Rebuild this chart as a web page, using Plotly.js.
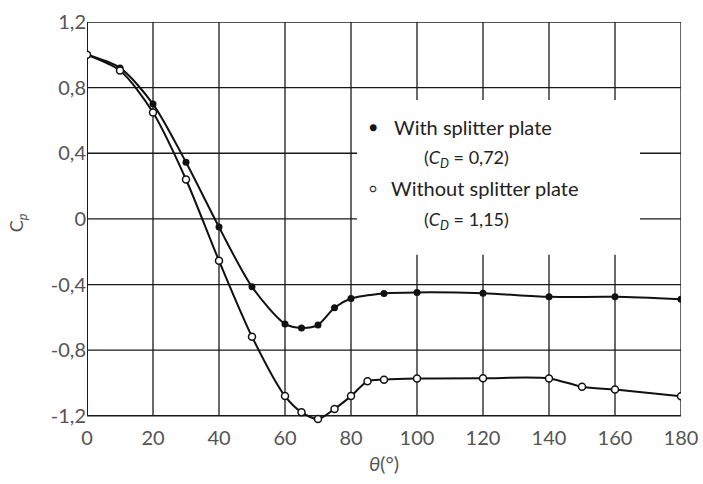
<!DOCTYPE html>
<html>
<head>
<meta charset="utf-8">
<script src="https://cdn.plot.ly/plotly-3.0.1.min.js"></script>
<style>html,body{margin:0;padding:0;background:#fff;}#chart{width:703px;height:484px;}</style>
</head>
<body>
<div id="chart"></div>
<script>
// Data
var thetaWith = [0, 10, 20, 30, 40, 50, 60, 65, 70, 75, 80, 90, 100, 120, 140, 160, 180];
var cpWith = [1.0, 0.92, 0.70, 0.345, -0.05, -0.414, -0.64, -0.665, -0.646, -0.541, -0.485, -0.454, -0.448, -0.453, -0.475, -0.475, -0.49];

var thetaWithout = [0, 10, 20, 30, 40, 50, 60, 65, 70, 75, 80, 85, 90, 100, 120, 140, 150, 160, 180];
var cpWithout = [1.0, 0.904, 0.648, 0.24, -0.255, -0.718, -1.08, -1.178, -1.22, -1.158, -1.08, -0.99, -0.98, -0.973, -0.971, -0.972, -1.023, -1.04, -1.081];

var xTicks = [0, 20, 40, 60, 80, 100, 120, 140, 160, 180];
var xTickText = ["0", "20", "40", "60", "80", "100", "120", "140", "160", "180"];
var yTicks = [-1.2, -0.8, -0.4, 0, 0.4, 0.8, 1.2];
var yTickText = ["-1,2", "-0,8", "-0,4", "0", "0,4", "0,8", "1,2"];

var legendLines = [
  "With splitter plate",
  "(<i>C<sub>D</sub></i> = 0,72)",
  "Without splitter plate",
  "(<i>C<sub>D</sub></i> = 1,15)"
];

var FONT = "Lato, 'Open Sans', sans-serif";
var GRID = "#1a1a1a";

var traces = [
  {
    x: thetaWith, y: cpWith, type: "scatter", mode: "lines+markers",
    line: {color: "#111", width: 2, shape: "spline", smoothing: 0.8},
    marker: {symbol: "circle", size: 7, color: "#111"},
    showlegend: false, hoverinfo: "skip"
  },
  {
    x: thetaWithout, y: cpWithout, type: "scatter", mode: "lines+markers",
    line: {color: "#111", width: 2, shape: "spline", smoothing: 0.8},
    marker: {symbol: "circle", size: 7, color: "#fff", line: {color: "#111", width: 1.5}},
    showlegend: false, hoverinfo: "skip"
  }
];

function px2paperX(px) { return (px - 87) / 594; }
function px2paperY(py) { return (484 - 60 - py) / 402; }

var yMin = yTicks[0], yMax = yTicks[yTicks.length - 1];
var xMin = xTicks[0], xMax = xTicks[xTicks.length - 1];

// legend box (in axis units) where the grid is interrupted
var boxX0 = (357 - 87) / 594 * 180, boxX1 = (640 - 87) / 594 * 180;
var boxYTop = 1.2 - (100 - 22) / 164.2, boxYBot = 1.2 - (255 - 22) / 164.2;

var shapes = [];
function vline(v, a, b, w) {
  shapes.push({type: "line", xref: "x", yref: "y", layer: "below", x0: v, x1: v, y0: a, y1: b,
    line: {color: GRID, width: w}});
}
function hline(v, a, b, w) {
  shapes.push({type: "line", xref: "x", yref: "y", layer: "below", x0: a, x1: b, y0: v, y1: v,
    line: {color: GRID, width: w}});
}
xTicks.forEach(function (v) {
  var w = (v === xMin) ? 2 : 1.3;
  if (v > boxX0 && v < boxX1) {
    vline(v, yMin, boxYBot, w);
    vline(v, boxYTop, yMax, w);
  } else {
    vline(v, yMin, yMax, w);
  }
});
yTicks.forEach(function (v) {
  var w = (v === yMin) ? 1.6 : 1.3;
  if (v > boxYBot && v < boxYTop) {
    hline(v, xMin, boxX0, w);
    hline(v, boxX1, xMax, w);
  } else {
    hline(v, xMin, xMax, w);
  }
});

var layout = {
  width: 703, height: 484,
  margin: {l: 87, r: 22, t: 22, b: 60},
  paper_bgcolor: "#fff", plot_bgcolor: "#fff",
  font: {family: FONT, size: 20, color: "#555"},
  xaxis: {
    range: [xMin, xMax], tickvals: xTicks, ticktext: xTickText,
    showgrid: false, showline: false, zeroline: false, ticks: "",
    tickfont: {family: FONT, size: 20, color: "#555"},
    title: {text: "<i>θ</i>(°)", font: {family: FONT, size: 20, color: "#555"}, standoff: 8}
  },
  yaxis: {
    range: [-1.25, yMax], tickvals: yTicks, ticktext: yTickText,
    showgrid: false, showline: false, zeroline: false, ticks: "",
    tickfont: {family: FONT, size: 20, color: "#555"},
    title: {text: "C<sub><i>p</i></sub>", font: {family: FONT, size: 18, color: "#555"}, standoff: 22}
  },
  shapes: shapes,
  annotations: [
    {xref: "paper", yref: "paper", x: px2paperX(373), y: px2paperY(127), text: "●", showarrow: false,
     font: {family: FONT, size: 14, color: "#111"}, xanchor: "center", yanchor: "middle"},
    {xref: "paper", yref: "paper", x: px2paperX(392), y: px2paperY(127), text: legendLines[0], showarrow: false,
     font: {family: FONT, size: 20, color: "#222"}, xanchor: "left", yanchor: "middle"},
    {xref: "paper", yref: "paper", x: px2paperX(422), y: px2paperY(158), text: legendLines[1], showarrow: false,
     font: {family: FONT, size: 18, color: "#222"}, xanchor: "left", yanchor: "middle"},
    {xref: "paper", yref: "paper", x: px2paperX(373), y: px2paperY(188), text: "○", showarrow: false,
     font: {family: FONT, size: 12, color: "#111"}, xanchor: "center", yanchor: "middle"},
    {xref: "paper", yref: "paper", x: px2paperX(389), y: px2paperY(188), text: legendLines[2], showarrow: false,
     font: {family: FONT, size: 20, color: "#222"}, xanchor: "left", yanchor: "middle"},
    {xref: "paper", yref: "paper", x: px2paperX(422), y: px2paperY(220), text: legendLines[3], showarrow: false,
     font: {family: FONT, size: 18, color: "#222"}, xanchor: "left", yanchor: "middle"}
  ]
};

Plotly.newPlot("chart", traces, layout, {displayModeBar: false, staticPlot: true});
</script>
</body>
</html>
